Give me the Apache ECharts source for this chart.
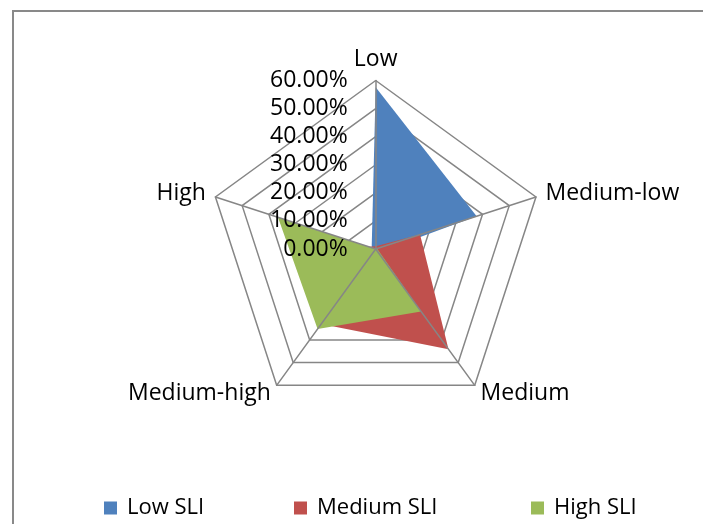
<!DOCTYPE html>
<html>
<head>
<meta charset="utf-8">
<script src="https://cdn.jsdelivr.net/npm/echarts@6/dist/echarts.min.js"></script>
<style>
  html, body { margin: 0; padding: 0; background: #fff; }
  #chart { width: 703px; height: 524px; }
</style>
</head>
<body>
<div id="chart"></div>
<script>
// Indicator axes, listed counter-clockwise from the top (ECharts lays radar axes out CCW)
const indicatorNames = ['Low', 'High', 'Medium-high', 'Medium', 'Medium-low'];
const axisMax = 0.6;
const axisSplits = 6;

// Share of each SLI group falling in each category (same order as indicatorNames)
const lowSLI    = [0.576, 0.015, 0.010, 0.015, 0.378];
const mediumSLI = [0.010, 0.025, 0.330, 0.441, 0.166];
const highSLI   = [0.000, 0.366, 0.352, 0.275, 0.005];

const seriesNames = ['Low SLI', 'Medium SLI', 'High SLI'];
const seriesColors = ['#4F81BD', '#C0504D', '#9BBB59'];

const FONT = '"Open Sans", "Noto Sans", sans-serif';
const GRID = '#868686';
const CENTER = [375.7, 249];
const RADIUS = 168.5;

const chart = echarts.init(document.getElementById('chart'), null, { renderer: 'canvas' });

// rings sit beneath the filled areas; spokes, scale and names are drawn over them
function makeIndicators(withLabels) {
  return indicatorNames.map((name, i) => {
    const ind = { name: name, min: 0, max: axisMax };
    if (withLabels && i === 0) {
      ind.axisLabel = {
        show: true,
        margin: 28,
        color: '#000',
        fontSize: 23,
        lineHeight: 18,
        fontFamily: FONT,
        hideOverlap: false,
        showMinLabel: true,
        showMaxLabel: true,
        formatter: v => (v * 100).toFixed(2) + '%'
      };
    }
    return ind;
  });
}

const values = [lowSLI, mediumSLI, highSLI];

const legends = [
  { left: 104, name: seriesNames[0] },
  { left: 294, name: seriesNames[1] },
  { left: 531, name: seriesNames[2] }
].map(l => ({
  left: l.left,
  top: 497,
  padding: 0,
  icon: 'rect',
  itemWidth: 13,
  itemHeight: 13,
  data: [l.name],
  selectedMode: false,
  textStyle: { color: '#000', fontSize: 22, fontFamily: FONT, lineHeight: 22, padding: [0, 0, 0, 5] }
}));

chart.setOption({
  animation: false,
  color: seriesColors,
  graphic: [{
    type: 'rect',
    shape: { x: 13, y: 11, width: 760, height: 560 },
    style: { fill: 'none', stroke: '#898989', lineWidth: 2 },
    silent: true,
    z: -1
  }],
  legend: legends,
  radar: [{
    z: 0,
    center: CENTER,
    radius: RADIUS,
    startAngle: 90,
    shape: 'polygon',
    splitNumber: axisSplits,
    axisName: { show: false },
    axisLine: { show: false },
    splitLine: { show: true, lineStyle: { color: GRID, width: 1.5 } },
    splitArea: { show: false },
    axisTick: { show: false },
    axisLabel: { show: false },
    indicator: makeIndicators(false)
  }, {
    z: 5,
    center: CENTER,
    radius: RADIUS,
    startAngle: 90,
    shape: 'polygon',
    splitNumber: axisSplits,
    nameGap: 10,
    axisName: { color: '#000', fontSize: 23, fontFamily: FONT },
    axisLine: { show: true, lineStyle: { color: GRID, width: 1.5 } },
    splitLine: { show: false },
    splitArea: { show: false },
    axisTick: { show: false },
    axisLabel: { show: false },
    indicator: makeIndicators(true)
  }],
  series: [{
    type: 'radar',
    radarIndex: 0,
    symbol: 'none',
    data: values.map((v, i) => ({
      name: seriesNames[i],
      value: v,
      itemStyle: { color: seriesColors[i] },
      lineStyle: { width: 0, color: seriesColors[i] },
      areaStyle: { color: seriesColors[i], opacity: 1 }
    }))
  }]
});
</script>
</body>
</html>
